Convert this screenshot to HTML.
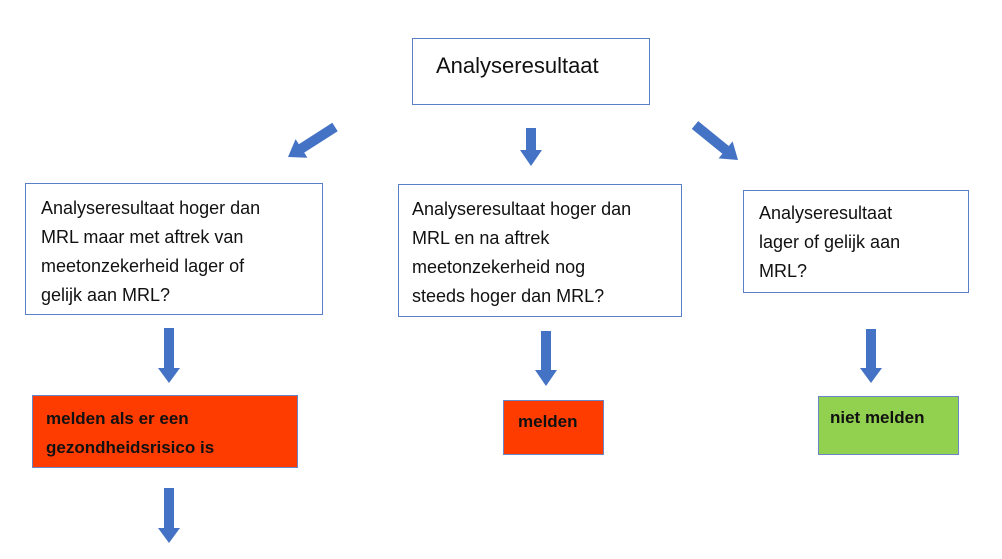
<!DOCTYPE html>
<html><head><meta charset="utf-8"><style>
body{margin:0;width:1002px;height:559px;background:#fff;position:relative;overflow:hidden;font-family:"Liberation Sans",sans-serif;color:#111}
.b{position:absolute;box-sizing:border-box;border:1.5px solid #5b7fc4;background:#fff}
.t{position:absolute;font-size:18px;line-height:29px;white-space:nowrap}
.r{background:#ff3c00;border-color:#6a86c6}
.g{background:#92d050;border-color:#6a86c6}
.bold{font-weight:bold;font-size:17px}
</style></head><body>
<div class="b" style="left:412px;top:38px;width:238px;height:67px"></div>
<div class="t" style="left:436px;top:51px;font-size:22px">Analyseresultaat</div>

<div class="b" style="left:25px;top:183px;width:298px;height:132px"></div>
<div class="t" style="left:41px;top:194px">Analyseresultaat hoger dan<br>MRL maar met aftrek van<br>meetonzekerheid lager of<br>gelijk aan MRL?</div>

<div class="b" style="left:398px;top:184px;width:284px;height:133px"></div>
<div class="t" style="left:412px;top:195px">Analyseresultaat hoger dan<br>MRL en na aftrek<br>meetonzekerheid nog<br>steeds hoger dan MRL?</div>

<div class="b" style="left:743px;top:190px;width:226px;height:103px"></div>
<div class="t" style="left:759px;top:199px">Analyseresultaat<br>lager of gelijk aan<br>MRL?</div>

<div class="b r" style="left:32px;top:395px;width:266px;height:73px"></div>
<div class="t bold" style="left:46px;top:404px">melden als er een<br>gezondheidsrisico is</div>

<div class="b r" style="left:503px;top:400px;width:101px;height:55px"></div>
<div class="t bold" style="left:518px;top:407px">melden</div>

<div class="b g" style="left:818px;top:396px;width:141px;height:59px"></div>
<div class="t bold" style="left:830px;top:403px">niet melden</div>

<svg width="1002" height="559" style="position:absolute;left:0;top:0">
<g fill="#4472c4">
<polygon points="526,128 536,128 536,150 542,150 531,166 520,150 526,150"/>
<polygon points="164,328 174,328 174,368 180,368 169,383 158,368 164,368"/>
<polygon points="541,331 551,331 551,370 557,370 546,386 535,370 541,370"/>
<polygon points="866,329 876,329 876,368 882,368 871,383 860,368 866,368"/>
<polygon points="164,488 174,488 174,528 180,528 169,543 158,528 164,528"/>
<polygon points="332.3,122.8 337.7,131.2 304.2,152.6 307.4,157.7 288,157 295.6,139.1 298.8,144.2"/>
<polygon points="698.2,121.1 728.8,146.0 732.6,141.4 738,160 718.6,158.4 722.4,153.8 691.8,128.9"/>
</g></svg>
</body></html>
